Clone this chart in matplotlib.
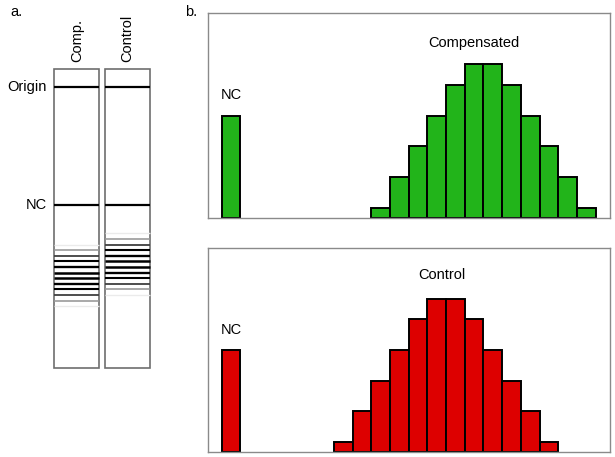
import numpy as np
import matplotlib
matplotlib.use("Agg")
import matplotlib.pyplot as plt
from matplotlib.patches import Rectangle

plt.rcParams["font.family"] = ["Liberation Sans", "DejaVu Sans"]

# ---- data -----------------------------------------------------------------
# histogram counts per migration bin (same shape for both samples)
comp_bins = np.arange(8, 20)
comp_counts = [1, 4, 7, 10, 13, 15, 15, 13, 10, 7, 4, 1]
ctrl_bins = np.arange(6, 18)
ctrl_counts = [1, 4, 7, 10, 13, 15, 15, 13, 10, 7, 4, 1]
nc_bin = 0
nc_count = 10

lane_names = ["Comp.", "Control"]
origin_pos = -20.2   # migration position of origin line (bin units)
nc_pos = 0.95        # migration position of NC band on the plate

GREEN = "#22b41a"
RED = "#dd0000"
FS = 10.5

fig = plt.figure(figsize=(6.15, 4.57), dpi=100)
W, H = 615.0, 457.0


def px_axes(x0, y0, x1, y1):
    return fig.add_axes([x0 / W, 1 - y1 / H, (x1 - x0) / W, (y1 - y0) / H])


# ---- panel a: TLC lanes ---------------------------------------------------
axa = px_axes(50, 60, 155, 375)
axa.set_xlim(-0.53, 1.54)
axa.set_ylim(31.3, -24.95)
axa.axis("off")

half = 0.444
lane_top, lane_bot = -23.3, 30.1
for i, name in enumerate(lane_names):
    axa.add_patch(Rectangle((i - half, lane_top), 2 * half, lane_bot - lane_top,
                            facecolor="white", edgecolor="#6e6e6e", lw=1.2))
    axa.hlines([origin_pos, nc_pos], i - half, i + half, color="black", lw=1.6)
    axa.text(i, lane_top - 1.3, name, rotation=90, ha="center", va="bottom",
             fontsize=FS)

for i, (bins, counts) in enumerate([(comp_bins, comp_counts), (ctrl_bins, ctrl_counts)]):
    for b, c in zip(bins, counts):
        level = float(np.clip(0.92 - 0.11 * (c - 1), 0, 1))
        lw = 0.9 + 0.9 * c / 15
        axa.hlines(b, i - half, i + half, color=str(level), lw=lw)

axa.text(-0.6, origin_pos, "Origin", ha="right", va="center", fontsize=FS)
axa.text(-0.6, nc_pos, "NC", ha="right", va="center", fontsize=FS)

fig.text(10 / W, 1 - 12 / H, "a.", ha="left", va="center", fontsize=FS)
fig.text(185 / W, 1 - 12 / H, "b.", ha="left", va="center", fontsize=FS)

# ---- panel b: histograms --------------------------------------------------
panels = [
    ((208, 13, 610, 218), comp_bins, comp_counts, GREEN, "Compensated", 13.0, 17.1),
    ((208, 248, 610, 452), ctrl_bins, ctrl_counts, RED, "Control", 11.3, 17.4),
]
for box, bins, counts, col, title, tx, ty in panels:
    ax = px_axes(*box)
    ax.bar([nc_bin], [nc_count], width=1.0, color=col, edgecolor="black", lw=1.4)
    ax.bar(bins, counts, width=1.0, color=col, edgecolor="black", lw=1.4)
    ax.set_xlim(-1.23, 20.27)
    ax.set_ylim(0, 20)
    ax.set_xticks([])
    ax.set_yticks([])
    for s in ax.spines.values():
        s.set_color("#8a8a8a")
        s.set_linewidth(1.0)
    ax.text(tx, ty, title, ha="center", va="center", fontsize=FS)
    ax.text(nc_bin, 12.0, "NC", ha="center", va="center", fontsize=FS)

fig.savefig("out.png", dpi=100)
